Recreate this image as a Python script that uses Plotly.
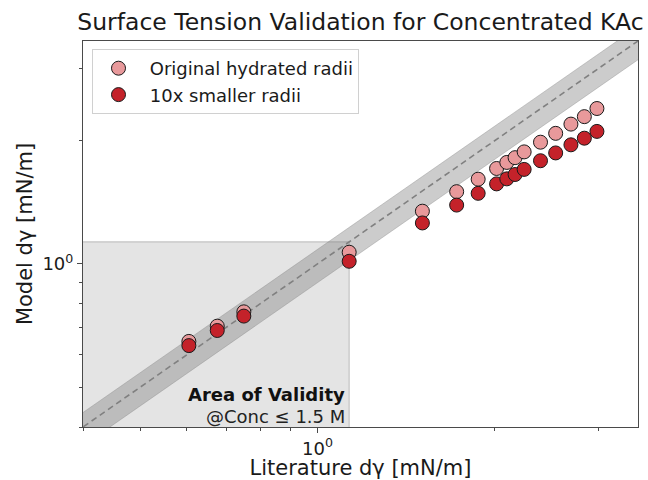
import numpy as np
import plotly.graph_objects as go

# Literature vs. model surface-tension increments for concentrated KAc (mN/m)
lit_dgamma = [0.605, 0.676, 0.750, 1.132, 1.507, 1.723, 1.874, 2.014,
              2.096, 2.165, 2.243, 2.391, 2.537, 2.693, 2.838, 2.981]
model_original = [0.647, 0.705, 0.764, 1.068, 1.345, 1.501, 1.610, 1.710,
                  1.769, 1.817, 1.877, 1.982, 2.083, 2.194, 2.288, 2.395]
model_small = [0.632, 0.688, 0.746, 1.015, 1.259, 1.392, 1.487, 1.568,
               1.613, 1.653, 1.701, 1.786, 1.866, 1.953, 2.027, 2.106]

series_names = ["Original hydrated radii", "10x smaller radii"]
axis_limits = [0.4, 3.5]
validity_limit = lit_dgamma[3]        # literature dγ at 1.5 M
band_hi, band_lo = 1.085, 0.90        # tolerance band around parity
major_ticks = [1.0]
major_ticktext = ["10<sup>0</sup>"]
minor_ticks = [0.4, 0.5, 0.6, 0.7, 0.8, 0.9, 2.0, 3.0]

FONT = "DejaVu Sans"
AXC = "#4a4a4a"

fig = go.Figure()

# validity region (lower-left square up to the 1.5 M point)
lo = axis_limits[0] * 0.8
fig.add_trace(go.Scatter(
    x=[lo, validity_limit, validity_limit, lo, lo],
    y=[lo, lo, validity_limit, validity_limit, lo],
    mode="lines", fill="toself", fillcolor="rgba(0,0,0,0.105)",
    line=dict(color="rgba(120,120,120,0.45)", width=1),
    hoverinfo="skip", showlegend=False))

# tolerance band around the parity line
xb = np.geomspace(axis_limits[0] * 0.8, axis_limits[1] * 1.2, 50)
fig.add_trace(go.Scatter(
    x=np.concatenate([xb, xb[::-1]]),
    y=np.concatenate([xb * band_hi, (xb * band_lo)[::-1]]),
    mode="lines", fill="toself", fillcolor="rgba(128,128,128,0.4)",
    line=dict(color="rgba(128,128,128,0.45)", width=0.8),
    hoverinfo="skip", showlegend=False))

# parity line
fig.add_trace(go.Scatter(
    x=xb, y=xb, mode="lines",
    line=dict(color="#808080", width=1.6, dash="6px,4px"),
    hoverinfo="skip", showlegend=False))

fig.add_trace(go.Scatter(
    x=lit_dgamma, y=model_original, mode="markers",
    name="\u00a0" + series_names[0], legendgroup="a",
    marker=dict(size=14, color="#e8999b", line=dict(color="#1a1a1a", width=1))))
fig.add_trace(go.Scatter(
    x=lit_dgamma, y=model_small, mode="markers",
    name="\u00a0" + series_names[1], legendgroup="b",
    marker=dict(size=14, color="#c4222a", line=dict(color="#1a1a1a", width=1))))

axis_common = dict(
    type="log", range=[np.log10(axis_limits[0]), np.log10(axis_limits[1])],
    showline=True, mirror=True, linecolor=AXC, linewidth=1.2,
    ticks="outside", ticklen=5, tickwidth=1, tickcolor=AXC,
    tickvals=major_ticks, ticktext=major_ticktext,
    tickfont=dict(family=FONT, size=18, color="#1a1a1a"),
    minor=dict(tickvals=minor_ticks, ticks="outside", ticklen=3,
               tickwidth=0.8, tickcolor=AXC, showgrid=False),
    showgrid=False, zeroline=False, automargin=False,
)

fig.update_layout(
    width=648, height=480,
    margin=dict(l=83, r=10, t=41, b=53, autoexpand=False),
    paper_bgcolor="white", plot_bgcolor="white",
    font=dict(family=FONT, color="#1a1a1a"),
    title=dict(text="Surface Tension Validation for Concentrated KAc",
               font=dict(family=FONT, size=23.5, color="#1a1a1a"),
               xref="paper", x=0.5, xanchor="center",
               yref="container", y=1 - 22 / 480, yanchor="middle"),
    xaxis=dict(axis_common,
               title=dict(text="Literature dγ [mN/m]",
                          font=dict(family=FONT, size=21), standoff=8)),
    yaxis=dict(axis_common,
               title=dict(text="Model dγ [mN/m]",
                          font=dict(family=FONT, size=21), standoff=4)),
    legend=dict(x=(92 - 83) / 555, y=(427 - 49) / 386,
                xanchor="left", yanchor="top",
                bgcolor="rgba(255,255,255,0.85)", bordercolor="#d0d0d0",
                borderwidth=1, font=dict(family=FONT, size=18),
                tracegroupgap=0, itemwidth=41),
    annotations=[
        dict(text="<b>Area of Validity</b>", xref="x", yref="paper",
             x=np.log10(validity_limit), y=(427 - 394) / 386,
             xanchor="right", yanchor="middle", xshift=-2, showarrow=False,
             font=dict(family=FONT, size=18, color="#111111")),
        dict(text="@Conc ≤ 1.5 M", xref="x", yref="paper",
             x=np.log10(validity_limit), y=(427 - 416) / 386,
             xanchor="right", yanchor="middle", xshift=-2, showarrow=False,
             font=dict(family=FONT, size=18, color="#222222")),
    ],
)

fig.write_html("out.html")
